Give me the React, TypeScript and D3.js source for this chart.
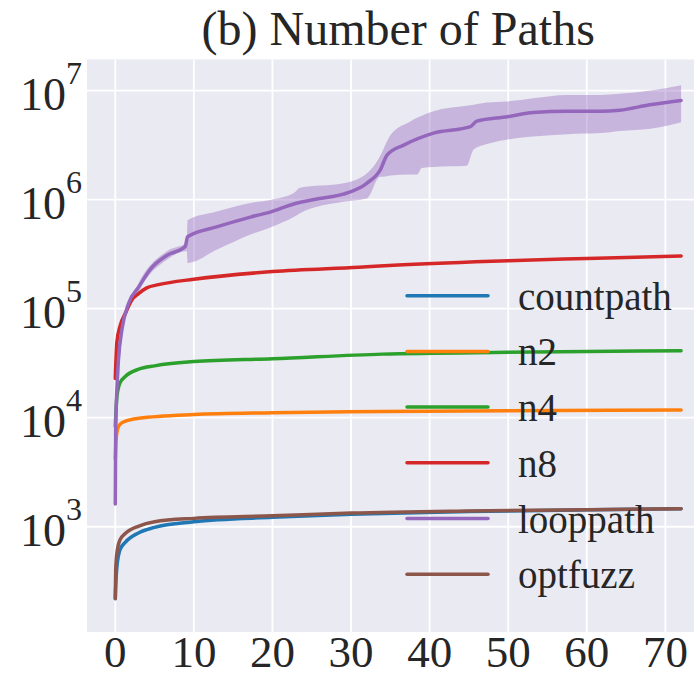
import React from "react";
import * as d3 from "d3";

const W = 694;
const H = 677;

const xTicks = [0, 10, 20, 30, 40, 50, 60, 70];
const yTicks = [3, 4, 5, 6, 7];
const titleText = "(b) Number of Paths";

const seriesNames = ["countpath", "n2", "n4", "n8", "looppath", "optfuzz"];
const seriesColors = ["#1f77b4", "#ff7f0e", "#2ca02c", "#d62728", "#9467bd", "#8c564b"];

const countpathX = [0, 0.05, 0.2, 0.6, 1.3, 3, 5, 10, 20, 30, 45, 60, 72];
const countpathY = [219, 282, 427, 617, 724, 881, 986, 1110, 1220, 1300, 1380, 1430, 1460];

const n2X = [0, 0.1, 0.3, 0.6, 1.3, 3, 10, 20, 34, 50, 72];
const n2Y = [4200, 6300, 7900, 8700, 9300, 9900, 10700, 11100, 11400, 11600, 11800];

const n4X = [0, 0.2, 0.6, 1.3, 3, 5, 10, 20, 34, 50, 72];
const n4Y = [8300, 15500, 20900, 24000, 27900, 29900, 32700, 34700, 38300, 39800, 41100];

const n8X = [0, 0.2, 0.6, 1.3, 2.1, 3, 4, 5.5, 10, 20, 31, 36, 50, 60, 72];
const n8Y = [22900, 49000, 69200, 91200, 120200, 138000, 155000, 166000, 186200, 218800, 239900, 251200, 275400, 288400, 304800];

const looppathX = [0, 0.05, 0.2, 0.4, 0.85, 1.7, 3, 4.45, 6.6, 8.9, 9.2, 12.9, 17.2, 19.9, 22.7, 26, 29, 32, 33.7, 34.6, 36.7, 40.5, 45.2, 46, 49.9, 53.2, 57.5, 61.7, 64.2, 68, 72];
const looppathY = [1620, 7760, 18200, 33900, 64600, 112200, 158500, 229100, 309000, 371500, 457100, 562300, 691800, 776200, 912000, 1023000, 1122000, 1413000, 1862000, 2570000, 3162000, 4074000, 4677000, 5248000, 5754000, 6310000, 6457000, 6457000, 6607000, 7413000, 8128000];

const looppathBandX = [0, 0.85, 3, 6.6, 9.1, 9.2, 12.9, 17.2, 19.9, 22.7, 23.5, 29, 32, 33.7, 34.1, 35, 37.5, 38.4, 39, 40.5, 44.7, 45.6, 47.3, 49.8, 53.2, 57.5, 61.7, 64.2, 68.1, 72];
const looppathUpper = [1700, 70800, 173800, 338800, 407400, 645700, 776200, 933300, 1000000, 1148000, 1288000, 1413000, 1738000, 2512000, 2884000, 3890000, 5188000, 5623000, 5888000, 6457000, 7244000, 7413000, 7762000, 7943000, 8511000, 9120000, 9120000, 9333000, 10000000, 11220000];
const looppathLower = [1550, 58900, 144500, 281800, 338800, 263000, 346700, 478600, 562300, 691800, 749900, 955000, 1023000, 1622000, 1622000, 1660000, 1698000, 1698000, 1950000, 1995000, 2042000, 2884000, 3236000, 3548000, 3802000, 3981000, 4074000, 4266000, 4467000, 5129000];

const optfuzzX = [0, 0.05, 0.2, 0.6, 1.3, 3, 5, 10, 20, 30, 45, 60, 72];
const optfuzzY = [220, 398, 570, 759, 871, 1014, 1110, 1194, 1259, 1334, 1396, 1435, 1462];

const seriesX = [countpathX, n2X, n4X, n8X, looppathX, optfuzzX];
const seriesY = [countpathY, n2Y, n4Y, n8Y, looppathY, optfuzzY];

export default function App() {
  const plotLeft = 87;
  const plotRight = 709.4;
  const plotTop = 59.5;
  const plotBottom = 632;

  const x = d3.scaleLinear().domain([-3.6, 75.6]).range([plotLeft, plotRight]);
  const y = d3.scaleLog().domain([Math.pow(10, 2.035), Math.pow(10, 7.285)]).range([plotBottom, plotTop]);

  const line = d3
    .line<[number, number]>()
    .x((d) => x(d[0]))
    .y((d) => y(d[1]))
    .curve(d3.curveMonotoneX);

  const area = d3
    .area<[number, number, number]>()
    .x((d) => x(d[0]))
    .y0((d) => y(d[1]))
    .y1((d) => y(d[2]))
    .curve(d3.curveMonotoneX);

  const bandData: [number, number, number][] = looppathBandX.map((v, i) => [v, looppathLower[i], looppathUpper[i]]);

  const textStyle: React.CSSProperties = {
    fontFamily: '"Liberation Serif", "Tinos", "Times New Roman", "DejaVu Serif", serif',
  };
  const textColor = "#262626";

  const legendX0 = 407;
  const legendX1 = 488;
  const legendTextX = 518;
  const legendY0 = 295.7;
  const legendStep = 55.7;

  return (
    <svg
      width={W}
      height={H}
      style={{ position: "absolute", left: 0, top: 0, background: "#ffffff", overflow: "hidden" }}
    >
      <defs>
        <clipPath id="plotclip">
          <rect x={plotLeft} y={plotTop} width={plotRight - plotLeft} height={plotBottom - plotTop} />
        </clipPath>
      </defs>
      <rect x={plotLeft} y={plotTop} width={plotRight - plotLeft} height={plotBottom - plotTop} fill="#EAEAF2" />
      {xTicks.map((t) => (
        <line key={"gx" + t} x1={x(t)} x2={x(t)} y1={plotTop} y2={plotBottom} stroke="#ffffff" strokeWidth={1.8} />
      ))}
      {yTicks.map((t) => (
        <line
          key={"gy" + t}
          x1={plotLeft}
          x2={plotRight}
          y1={y(Math.pow(10, t))}
          y2={y(Math.pow(10, t))}
          stroke="#ffffff"
          strokeWidth={1.8}
        />
      ))}
      <g clipPath="url(#plotclip)">
        <path d={area(bandData) || ""} fill="#9467bd" fillOpacity={0.4} stroke="none" />
        {seriesNames.map((name, i) => {
          const pts: [number, number][] = seriesX[i].map((v, j) => [v, seriesY[i][j]]);
          return (
            <path
              key={name}
              d={line(pts) || ""}
              fill="none"
              stroke={seriesColors[i]}
              strokeWidth={3.5}
              strokeLinecap="round"
              strokeLinejoin="round"
            />
          );
        })}
      </g>
      {seriesNames.map((name, i) => (
        <g key={"lg" + name}>
          <line
            x1={legendX0}
            x2={legendX1}
            y1={legendY0 + i * legendStep}
            y2={legendY0 + i * legendStep}
            stroke={seriesColors[i]}
            strokeWidth={3.5}
            strokeLinecap="round"
          />
          <text x={legendTextX} y={legendY0 + i * legendStep + 14} style={textStyle} fontSize={39} fill={textColor}>
            {name}
          </text>
        </g>
      ))}
      {xTicks.map((t) => (
        <text key={"xt" + t} x={x(t)} y={667} textAnchor="middle" style={textStyle} fontSize={45} fill={textColor}>
          {t}
        </text>
      ))}
      {yTicks.map((t) => (
        <text
          key={"yt" + t}
          x={82}
          y={y(Math.pow(10, t)) + 19.5}
          textAnchor="end"
          style={textStyle}
          fontSize={46}
          fill={textColor}
        >
          10
          <tspan fontSize={32} dy={-26}>
            {t}
          </tspan>
        </text>
      ))}
      <text x={(plotLeft + plotRight) / 2} y={45} textAnchor="middle" style={textStyle} fontSize={48} fill={textColor}>
        {titleText}
      </text>
    </svg>
  );
}
